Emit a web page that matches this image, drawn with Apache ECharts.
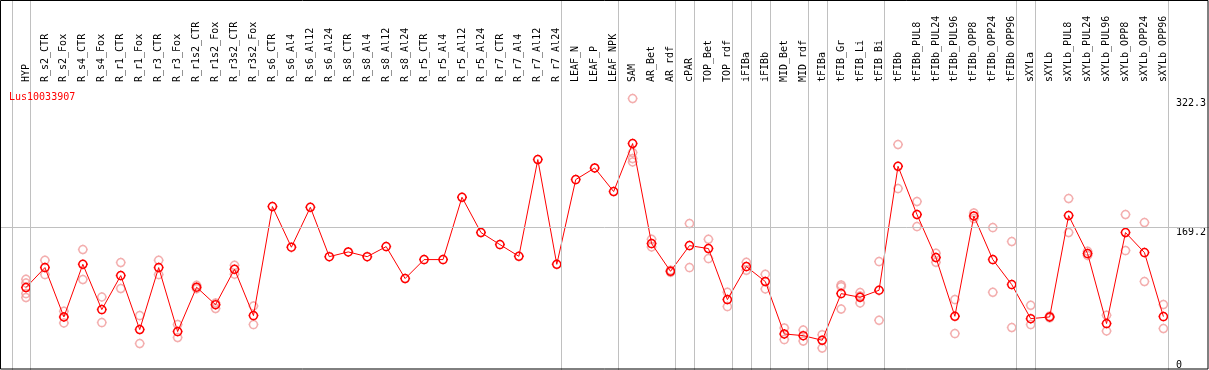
<!DOCTYPE html>
<html>
<head>
<meta charset="utf-8">
<script src="https://cdn.jsdelivr.net/npm/echarts@6/dist/echarts.min.js"></script>
<style>
  html, body { margin: 0; padding: 0; background: #ffffff; }
  #chart { width: 1209px; height: 370px; }
</style>
</head>
<body>
<div id="chart"></div>
<script>
const chartTitle = 'Lus10033907';

const categories = [
  'HYP', 'R_s2_CTR', 'R_s2_Fox', 'R_s4_CTR', 'R_s4_Fox', 'R_r1_CTR', 'R_r1_Fox', 'R_r3_CTR', 'R_r3_Fox',
  'R_r1s2_CTR', 'R_r1s2_Fox', 'R_r3s2_CTR', 'R_r3s2_Fox', 'R_s6_CTR', 'R_s6_Al4', 'R_s6_Al12', 'R_s6_Al24',
  'R_s8_CTR', 'R_s8_Al4', 'R_s8_Al12', 'R_s8_Al24', 'R_r5_CTR', 'R_r5_Al4', 'R_r5_Al12', 'R_r5_Al24',
  'R_r7_CTR', 'R_r7_Al4', 'R_r7_Al12', 'R_r7_Al24', 'LEAF_N', 'LEAF_P', 'LEAF_NPK', 'SAM', 'AR_Bet', 'AR_rdf',
  'cPAR', 'TOP_Bet', 'TOP_rdf', 'iFIBa', 'iFIBb', 'MID_Bet', 'MID_rdf', 'tFIBa', 'tFIB_Gr', 'tFIB_Li', 'tFIB_Bi',
  'tFIBb', 'tFIBb_PUL8', 'tFIBb_PUL24', 'tFIBb_PUL96', 'tFIBb_OPP8', 'tFIBb_OPP24', 'tFIBb_OPP96',
  'sXYLa', 'sXYLb', 'sXYLb_PUL8', 'sXYLb_PUL24', 'sXYLb_PUL96', 'sXYLb_OPP8', 'sXYLb_OPP24', 'sXYLb_OPP96'
];

// mean expression per sample (red line)
const meanValues = [
  97.9, 121.6, 63.0, 125.5, 71.7, 112.1, 48.0, 121.6, 45.6,
  98.3, 77.5, 119.6, 64.6, 194.1, 145.8, 193.2, 134.6,
  140.2, 134.6, 146.5, 108.6, 131.1, 131.1, 205.1, 163.2,
  148.9, 135.0, 249.9, 125.5, 226.1, 239.9, 211.9, 268.9, 150.1, 117.2,
  147.7, 144.2, 83.6, 122.8, 105.0, 42.8, 40.8, 35.3, 90.7, 86.3, 94.7,
  241.9, 184.6, 133.5, 63.8, 182.9, 131.1, 101.4,
  61.0, 63.0, 183.4, 138.2, 55.1, 163.2, 139.4, 63.4
];

// individual replicate values per sample (pink circles)
const replicateValues = [
  [107.7, 103.3, 90.7, 86.0], [130.3, 113.3], [69.7, 55.8], [143.0, 107.4], [86.7, 56.3], [127.6, 96.7],
  [64.6, 31.4], [130.3, 113.3], [53.9, 38.5],
  [100.5, 96.5], [79.5, 73.0], [124.3, 113.7], [76.0, 53.9], [], [], [], [],
  [], [], [], [], [], [], [], [],
  [], [], [], [], [], [], [], [322.3, 258.2, 251.1, 247.0], [155.2, 146.1], [118.5, 116.0],
  [173.9, 121.6], [155.2, 132.3], [92.3, 75.3], [127.9, 118.4], [113.7, 96.2], [49.9, 36.1], [47.5, 34.4],
  [42.0, 26.1], [101.0, 99.0, 72.4], [91.9, 88.0, 79.6], [128.7, 59.0],
  [267.7, 215.4], [200.0, 170.3], [138.6, 127.9], [83.6, 43.2], [186.5, 179.8], [169.1, 92.3], [152.5, 50.4],
  [76.8, 53.9], [64.0, 62.0], [203.6, 163.2], [141.0, 136.0], [65.0, 46.3], [184.6, 141.8], [175.1, 105.0], [77.7, 49.2]
];

// y axis labels
const yTickLabels = [0, 169.2, 322.3];
const yGridValue = 169.2;
const yMax = 322.3 * 1.05;

// group separators (drawn after these samples)
const groupEnds = ['HYP', 'R_r7_Al24', 'LEAF_NPK', 'AR_rdf', 'cPAR', 'TOP_rdf', 'iFIBa', 'iFIBb',
  'MID_rdf', 'tFIBa', 'tFIB_Bi', 'tFIBb_OPP96', 'sXYLa', 'sXYLb_OPP96'];

const FONT = 'DejaVu Sans Mono';
const ringPath = 'path://M-4,0A4,4 0 1,0 4,0A4,4 0 1,0 -4,0Z M0,-5L0,-4 M0,4L0,5 M-5,0L-4,0 M4,0L5,0';

const replicatePoints = [];
replicateValues.forEach((vals, i) => vals.forEach(v => replicatePoints.push([categories[i], v])));

const sepPositions = [-1].concat(groupEnds.map(n => categories.indexOf(n))).map(i => i + 0.25);

const chart = echarts.init(document.getElementById('chart'), null, { renderer: 'canvas' });
chart.setOption({
  animation: false,
  backgroundColor: '#ffffff',
  title: {
    text: chartTitle, left: 9, top: 92, padding: 0,
    textStyle: { color: '#ff0000', fontFamily: FONT, fontSize: 10, fontWeight: 'normal' }
  },
  grid: { left: 16.5, right: 33.5, top: 85, bottom: 0, containLabel: false },
  xAxis: [{
    type: 'category', data: categories, position: 'top', boundaryGap: true,
    axisLine: { show: true, lineStyle: { color: '#000000', width: 1 } },
    axisTick: { show: false },
    splitLine: { show: false },
    axisLabel: { interval: 0, rotate: 90, margin: 3, color: '#000000', fontFamily: FONT, fontSize: 10 }
  }, {
    type: 'value', min: -0.5, max: categories.length - 0.5, show: false
  }],
  yAxis: {
    type: 'value', position: 'right', min: 0, max: yMax,
    axisLine: { show: false }, axisTick: { show: false }, splitLine: { show: false },
    axisLabel: {
      customValues: yTickLabels, margin: 3, align: 'left', verticalAlign: 'top',
      verticalAlignMinLabel: 'bottom',
      color: '#000000', fontFamily: FONT, fontSize: 10,
      formatter: v => String(v)
    }
  },
  series: [{
    type: 'line', xAxisIndex: 1, data: [], silent: true,
    markLine: {
      silent: true, symbol: ['none', 'none'], label: { show: false },
      lineStyle: { color: '#c0c0c0', width: 1, type: 'solid' },
      emphasis: { disabled: true },
      data: sepPositions.map(p => [{ xAxis: p, y: 0 }, { xAxis: p, y: 370 }])
        .concat([[{ x: 0, yAxis: yGridValue }, { x: 1209, yAxis: yGridValue }]])
    }
  }, {
    type: 'scatter', data: replicatePoints, silent: true,
    symbol: ringPath, symbolSize: 10, symbolKeepAspect: true,
    itemStyle: { color: 'rgba(0,0,0,0)', borderColor: '#f09a9a', borderWidth: 1.5 },
    emphasis: { disabled: true }, z: 3
  }, {
    type: 'line', data: meanValues, silent: true,
    symbol: ringPath, symbolSize: 10, symbolKeepAspect: true, showAllSymbol: true,
    lineStyle: { color: '#ff0000', width: 1 },
    itemStyle: { color: 'rgba(0,0,0,0)', borderColor: '#ff0000', borderWidth: 1.5 },
    emphasis: { disabled: true }, z: 4
  }],
  graphic: [{
    type: 'rect', silent: true, z: 100,
    shape: { x: 0.5, y: 0.5, width: 1207.5, height: 368.5 },
    style: { fill: null, stroke: '#000000', lineWidth: 1 }
  }]
});
</script>
</body>
</html>
